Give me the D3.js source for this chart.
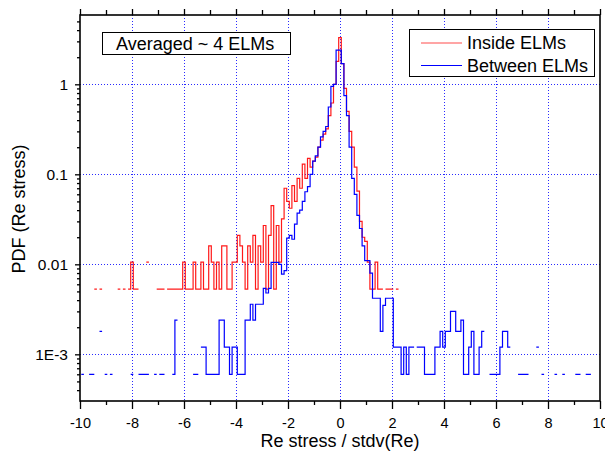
<!DOCTYPE html>
<html><head><meta charset="utf-8">
<script src="https://cdn.jsdelivr.net/npm/d3@7"></script>
<style>
body{margin:0;background:#fff}
svg{display:block}
text{font-family:"Liberation Sans",Arial,sans-serif;fill:#000}
</style>
</head><body>
<svg id="chart" width="605" height="454"></svg>
<script>
// ---------- data (histogram bins: centre, PDF value) ----------
const binWidth = 0.1;

const redCenters = [-9.4,-9.2,-8.5,-8.3,-8.1,-8.0,-7.9,-7.8,-7.4,-7.0,-6.9,-6.8,-6.6,-6.5,-6.4,-6.3,-6.2,-6.1,-6.0,-5.9,-5.8,-5.7,-5.6,-5.5,-5.4,-5.3,-5.2,-5.1,-5.0,-4.9,-4.8,-4.7,-4.6,-4.5,-4.4,-4.3,-4.2,-4.1,-4.0,-3.9,-3.8,-3.7,-3.6,-3.5,-3.4,-3.3,-3.2,-3.1,-3.0,-2.9,-2.8,-2.7,-2.6,-2.5,-2.4,-2.3,-2.2,-2.1,-2.0,-1.9,-1.8,-1.7,-1.6,-1.5,-1.4,-1.3,-1.2,-1.1,-1.0,-0.9,-0.8,-0.7,-0.6,-0.5,-0.4,-0.3,-0.2,-0.1,0.0,0.1,0.2,0.3,0.4,0.5,0.6,0.7,0.8,0.9,1.0,1.1,1.2,1.3,1.4,1.5,1.6,1.8,1.9,2.0,2.2];
const redPdf = [0.0053,0.0053,0.0053,0.0053,0.0053,0.0106,0.0053,0.0053,0.0106,0.0053,0.0053,0.0053,0.0053,0.0053,0.0053,0.0053,0.0053,0.0053,0.0106,0.0053,0.0053,0.0053,0.0106,0.0053,0.0053,0.0106,0.0053,0.0053,0.016,0.0106,0.0053,0.0106,0.0053,0.016,0.016,0.0053,0.0053,0.0106,0.0106,0.021,0.016,0.0106,0.0053,0.016,0.0106,0.021,0.0053,0.016,0.0106,0.027,0.0053,0.021,0.045,0.0053,0.027,0.0106,0.032,0.07,0.05,0.042,0.075,0.05,0.09,0.07,0.13,0.09,0.15,0.12,0.14,0.155,0.2,0.24,0.28,0.32,0.45,0.62,1.0,1.8,3.3,1.7,0.9,0.5,0.3,0.2,0.12,0.065,0.03,0.02,0.018,0.0106,0.0053,0.0053,0.0106,0.0053,0.0053,0.0053,0.0053,0.0053,0.0053];

const blueCenters = [-9.9,-9.6,-9.5,-9.2,-9.0,-8.8,-8.0,-7.7,-7.6,-7.5,-7.4,-7.1,-6.9,-6.8,-6.4,-6.3,-5.6,-5.5,-5.3,-5.2,-5.1,-5.0,-4.9,-4.8,-4.7,-4.6,-4.5,-4.4,-4.3,-4.2,-4.1,-4.0,-3.9,-3.8,-3.7,-3.6,-3.5,-3.4,-3.3,-3.2,-3.1,-3.0,-2.9,-2.8,-2.7,-2.6,-2.5,-2.4,-2.3,-2.2,-2.1,-2.0,-1.9,-1.8,-1.7,-1.6,-1.5,-1.4,-1.3,-1.2,-1.1,-1.0,-0.9,-0.8,-0.7,-0.6,-0.5,-0.4,-0.3,-0.2,-0.1,0.0,0.1,0.2,0.3,0.4,0.5,0.6,0.7,0.8,0.9,1.0,1.1,1.2,1.3,1.4,1.5,1.6,1.7,1.8,1.9,2.0,2.1,2.2,2.3,2.4,2.5,2.6,2.7,2.8,3.0,3.1,3.2,3.3,3.4,3.5,3.6,3.7,3.8,3.9,4.0,4.1,4.2,4.3,4.4,4.5,4.6,4.7,4.8,4.9,5.0,5.1,5.2,5.3,5.4,5.5,5.8,5.9,6.0,6.1,6.2,6.3,6.4,6.5,6.9,7.0,7.1,7.2,7.6,7.8,8.3,8.6,9.1,9.2,9.5,9.6];
const bluePdf = [0.0006,0.0006,0.0006,0.0018,0.0006,0.0006,0.0006,0.0006,0.0006,0.0006,0.0006,0.0006,0.0006,0.0006,0.0006,0.0024,0.0006,0.0006,0.0012,0.0012,0.0006,0.0006,0.0006,0.0006,0.0006,0.0024,0.0024,0.0012,0.0012,0.0006,0.0012,0.0012,0.0006,0.0006,0.0006,0.0024,0.0024,0.0036,0.0024,0.0036,0.0036,0.0036,0.0054,0.0048,0.0054,0.0105,0.0105,0.0105,0.010,0.0078,0.0085,0.0195,0.021,0.019,0.028,0.037,0.04,0.05,0.064,0.073,0.10,0.14,0.16,0.2,0.26,0.3,0.34,0.56,0.95,1.0,2.4,2.4,1.7,0.75,0.45,0.2,0.09,0.06,0.035,0.025,0.016,0.011,0.011,0.008,0.0042,0.0042,0.0042,0.0018,0.0035,0.0042,0.0042,0.0042,0.0012,0.0012,0.0012,0.0006,0.0012,0.0006,0.0012,0.0012,0.0012,0.0012,0.0012,0.0006,0.0006,0.0006,0.0006,0.0012,0.0012,0.0018,0.0012,0.0018,0.0018,0.003,0.003,0.0018,0.0018,0.0024,0.0006,0.0006,0.0012,0.0018,0.0006,0.0006,0.0012,0.0018,0.0006,0.0006,0.0006,0.0006,0.0012,0.0018,0.0018,0.0012,0.0006,0.0006,0.0006,0.0006,0.0012,0.0006,0.0006,0.0006,0.0006,0.0006,0.0006,0.0006];

const xTickValues = [-10,-8,-6,-4,-2,0,2,4,6,8,10];
const xMinorValues = [-9,-7,-5,-3,-1,1,3,5,7,9];
const xGridValues = [-8,-6,-4,-2,0,2,4,6,8];
const yTickValues = [0.001,0.01,0.1,1];
const yTickLabels = ["1E-3","0.01","0.1","1"];
const seriesNames = ["Inside ELMs","Between ELMs"];
const seriesColors = ["#ff0000","#0000ff"];
const boxText = "Averaged ~ 4 ELMs";
const xTitle = "Re stress / stdv(Re)";
const yTitle = "PDF (Re stress)";

// ---------- layout ----------
const L = 80, R = 600, T = 15, B = 401;
const svg = d3.select("#chart");
const x = d3.scaleLinear().domain([-10,10]).range([L,R]);
const y = d3.scaleLog().domain([3.03e-4, 5.89]).range([B,T]);

svg.append("defs").append("clipPath").attr("id","plot")
  .append("rect").attr("x",L).attr("y",T).attr("width",R-L).attr("height",B-T);

// grid
const grid = svg.append("g").attr("stroke","#2a2aff").attr("stroke-width",1).attr("stroke-dasharray","1,2");
grid.selectAll("line.vx").data(xGridValues).join("line")
  .attr("x1",d=>Math.round(x(d))+0.5).attr("x2",d=>Math.round(x(d))+0.5).attr("y1",T).attr("y2",B);
grid.selectAll("line.hy").data(yTickValues).join("line")
  .attr("y1",d=>Math.round(y(d))+0.5).attr("y2",d=>Math.round(y(d))+0.5).attr("x1",L).attr("x2",R);

// step path builder
function stepPoints(centers, vals){
  const pts = [];
  let prev = null;
  centers.forEach((c,i)=>{
    const v = vals[i];
    const lo = c - binWidth/2, hi = c + binWidth/2;
    if (prev === null || Math.abs(c - prev - binWidth) > 1e-6) pts.push(null);
    pts.push([lo,v]); pts.push([hi,v]);
    prev = c;
  });
  return pts;
}
const line = d3.line().defined(d=>d!==null).x(d=>x(d[0])).y(d=>y(d[1]));
const plotG = svg.append("g").attr("clip-path","url(#plot)");
plotG.append("path").attr("d", line(stepPoints(redCenters, redPdf)))
  .attr("fill","none").attr("stroke",seriesColors[0]).attr("stroke-width",1.2).attr("stroke-opacity",0.9);
plotG.append("path").attr("d", line(stepPoints(blueCenters, bluePdf)))
  .attr("fill","none").attr("stroke",seriesColors[1]).attr("stroke-width",1.2);

// axes
function styleAxis(fs){
  return g=>{
    g.attr("font-family",null).attr("font-size",null);
    g.selectAll("text").attr("font-size",fs).attr("fill","#000");
    g.selectAll("line").attr("stroke","#000").attr("stroke-width",1.3);
    g.select(".domain").remove();
  };
}
svg.append("g").attr("transform",`translate(0,${B})`)
  .call(d3.axisBottom(x).tickValues(xTickValues).tickSize(8).tickSizeOuter(0).tickPadding(9).tickFormat(d=>String(d)))
  .call(styleAxis(14.5));
svg.append("g").attr("transform",`translate(0,${B})`)
  .call(d3.axisBottom(x).tickValues(xMinorValues).tickSize(4).tickSizeOuter(0).tickFormat(""))
  .call(styleAxis(14.5));
svg.append("g").attr("transform",`translate(0,${T})`)
  .call(d3.axisTop(x).tickValues(xTickValues).tickSize(6).tickSizeOuter(0).tickFormat(""))
  .call(styleAxis(14.5));
svg.append("g").attr("transform",`translate(0,${T})`)
  .call(d3.axisTop(x).tickValues(xMinorValues).tickSize(5).tickSizeOuter(0).tickFormat(""))
  .call(styleAxis(14.5));
svg.append("g").attr("transform",`translate(${L},0)`)
  .call(d3.axisLeft(y).tickValues(yTickValues).tickSize(5).tickSizeOuter(0).tickPadding(7)
    .tickFormat((d,i)=>yTickLabels[i]))
  .call(styleAxis(15.5));
const yMinor = [];
[-4,-3,-2,-1,0].forEach(e=>{[2,3,4,5,6,7,8,9].forEach(m=>{const v=m*Math.pow(10,e); if(v>=y.domain()[0]&&v<=y.domain()[1]) yMinor.push(v);});});
svg.append("g").attr("transform",`translate(${L},0)`)
  .call(d3.axisLeft(y).tickValues(yMinor).tickSize(3).tickSizeOuter(0).tickFormat(""))
  .call(styleAxis(15.5));

// frame
svg.append("rect").attr("x",L).attr("y",T).attr("width",R-L).attr("height",B-T)
  .attr("fill","none").attr("stroke","#000").attr("stroke-width",1.6);

// titles
svg.append("text").attr("x",(L+R)/2).attr("y",447).attr("text-anchor","middle")
  .attr("font-size",18).text(xTitle);
svg.append("text").attr("transform","translate(25,209) rotate(-90)").attr("text-anchor","middle")
  .attr("font-size",18).text(yTitle);

// annotation box
svg.append("rect").attr("x",102.5).attr("y",32.5).attr("width",188).attr("height",22)
  .attr("fill","#fff").attr("stroke","#000").attr("stroke-width",1);
svg.append("text").attr("x",116).attr("y",50).attr("font-size",18).text(boxText);

// legend
const lg = svg.append("g");
lg.append("rect").attr("x",409.5).attr("y",29.5).attr("width",185).attr("height",47)
  .attr("fill","#fff").attr("stroke","#000").attr("stroke-width",1);
[43, 65.5].forEach((ly,i)=>{
  lg.append("line").attr("x1",421).attr("x2",462).attr("y1",ly).attr("y2",ly)
    .attr("stroke",seriesColors[i]).attr("stroke-width",1.2).attr("stroke-opacity",i===0?0.7:1);
  lg.append("text").attr("x",467).attr("y",ly+6).attr("font-size",18).text(seriesNames[i]);
});
</script>
</body></html>
